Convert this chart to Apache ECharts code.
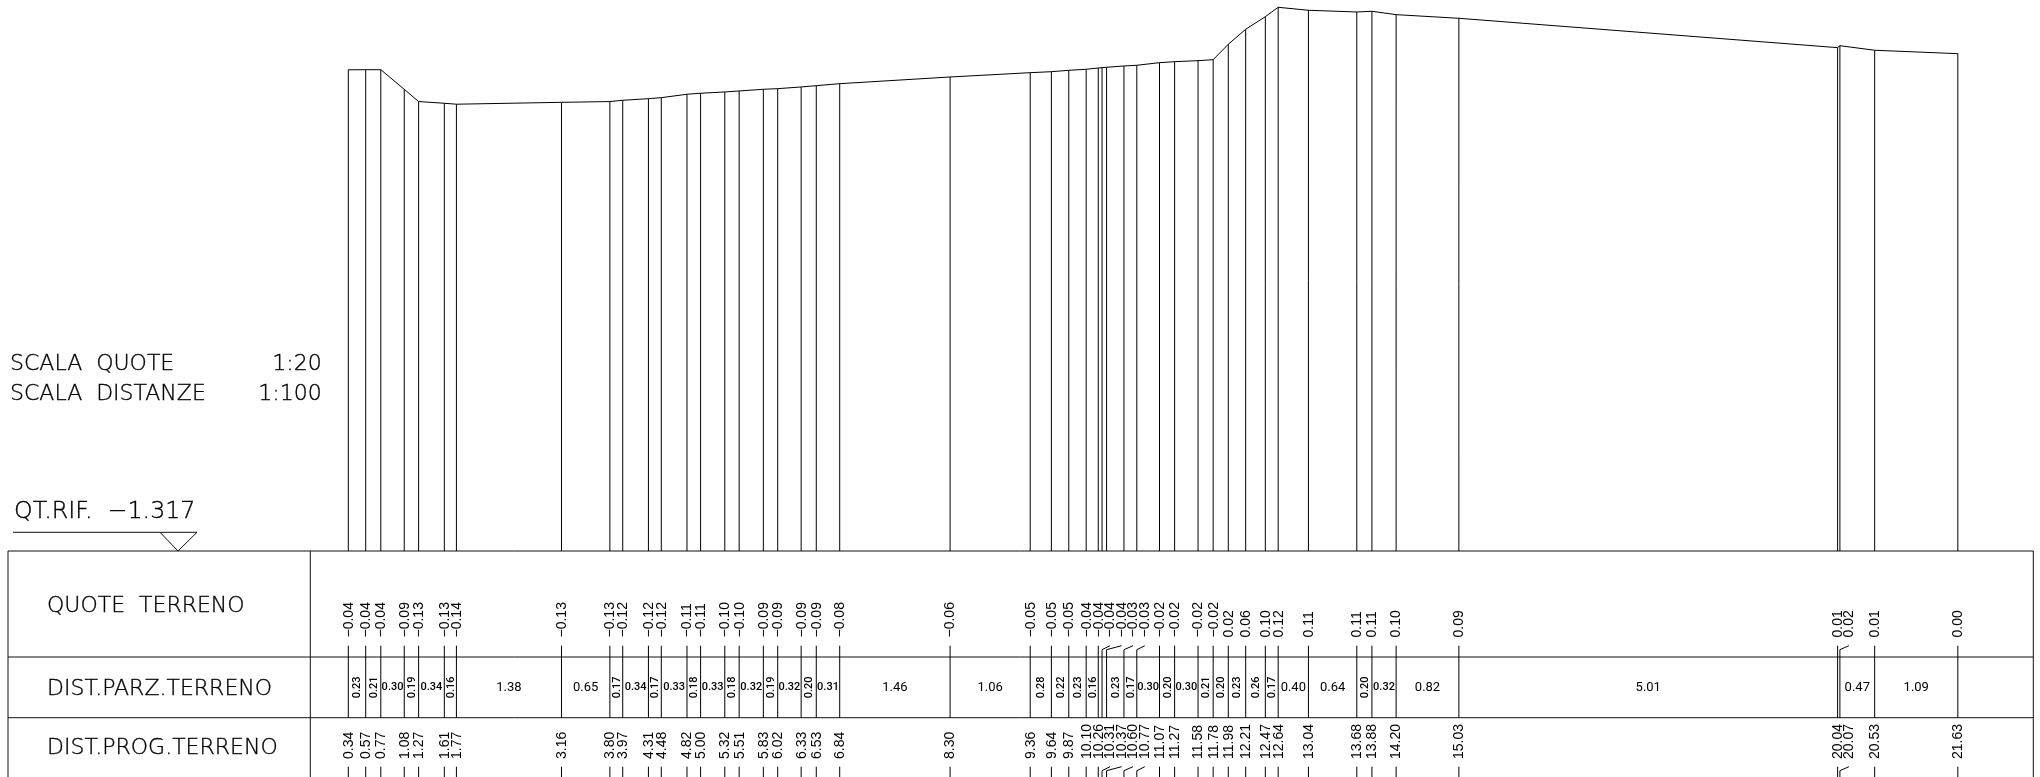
<!DOCTYPE html>
<html>
<head>
<meta charset="utf-8">
<style>html,body{margin:0;padding:0;background:#fff}#c{width:2040px;height:777px}</style>
<script src="https://cdn.jsdelivr.net/npm/echarts@6/dist/echarts.min.js"></script>
</head>
<body>
<div id="c"></div>
<script>
// Progressive distance of each station (DIST.PROG.TERRENO)
const progressive = [0.34,0.57,0.77,1.08,1.27,1.61,1.77,3.16,3.80,3.97,4.31,4.48,4.82,5.00,5.32,5.51,5.83,6.02,6.33,6.53,6.84,8.30,9.36,9.64,9.87,10.10,10.26,10.31,10.37,10.60,10.77,11.07,11.27,11.58,11.78,11.98,12.21,12.47,12.64,13.04,13.68,13.88,14.20,15.03,20.04,20.07,20.53,21.63];
// Printed ground levels (QUOTE TERRENO)
const quoteLabels = ["−0.04","−0.04","−0.04","−0.09","−0.13","−0.13","−0.14","−0.13","−0.13","−0.12","−0.12","−0.12","−0.11","−0.11","−0.10","−0.10","−0.09","−0.09","−0.09","−0.09","−0.08","−0.06","−0.05","−0.05","−0.05","−0.04","−0.04","−0.04","−0.04","−0.03","−0.03","−0.02","−0.02","−0.02","−0.02","0.02","0.06","0.10","0.12","0.11","0.11","0.11","0.10","0.09","0.01","0.02","0.01","0.00"];
// Ground level
const terrain = [-0.044,-0.0437,-0.0437,-0.0955,-0.128,-0.1325,-0.135,-0.130,-0.128,-0.1246,-0.1204,-0.1177,-0.1087,-0.106,-0.1026,-0.100,-0.0955,-0.0939,-0.0894,-0.086,-0.0807,-0.063,-0.0516,-0.049,-0.0453,-0.0426,-0.0392,-0.0384,-0.0373,-0.0339,-0.032,-0.0251,-0.0225,-0.0198,-0.0172,0.0235,0.0632,0.0966,0.1214,0.1135,0.109,0.1108,0.1019,0.0923,0.0146,0.0198,0.0077,-0.0013];
// Partial distances between consecutive stations (null: not printed)
const partial = ["0.23","0.21","0.30","0.19","0.34","0.16","1.38","0.65","0.17","0.34","0.17","0.33","0.18","0.33","0.18","0.32","0.19","0.32","0.20","0.31","1.46","1.06","0.28","0.22","0.23","0.16",null,null,"0.23","0.17","0.30","0.20","0.30","0.21","0.20","0.23","0.26","0.17","0.40","0.64","0.20","0.32","0.82","5.01",null,"0.47","1.09"];
const refLevel = -1.317;
const rowTitles = ["QUOTE  TERRENO","DIST.PARZ.TERRENO","DIST.PROG.TERRENO"];

// Layout (pixels)
const L = {w:2040,h:777,x0:322.6,pxPerM:75.6,pxPerQ:378,tableTop:551,row1:657,row2:717.7,left:8,div:310.3,right:2033.3,
  quoteTextBase:637.5,tickTop:645.7,leaderFoot:649.7,parzMid:687.7,progTextBase:759,tick2Top:766.7,leader2Foot:770.7};
// label displacement (px) for crowded stations: station index -> shift
const labelShift = {27:8,28:15,29:9,30:8,45:9};
const BIG = '200 {s}px "DejaVu Sans"';
const INK = '#000';
const fontFor = size => size===14 ? '14px "Liberation Sans"' : (size<13 ? '500 ' : '400 ')+size+'px Roboto';

const xMin = -L.x0/L.pxPerM, xMax = (L.w-L.x0)/L.pxPerM;
const yMin = refLevel-(L.h-L.tableTop)/L.pxPerQ, yMax = refLevel+L.tableTop/L.pxPerQ;

const stations = progressive.map((p,i)=>[p,terrain[i],i]);
const gaps = partial.map((t,i)=>[(progressive[i]+progressive[i+1])/2,progressive[i+1]-progressive[i],i]).filter(g=>partial[g[2]]!==null);

const ln = (x1,y1,x2,y2)=>({type:'line',shape:{x1,y1,x2,y2},style:{stroke:INK,lineWidth:1}});
const txt = (x,y,text,size,rot)=>({type:'text',x,y,rotation:rot?Math.PI/2:0,style:{text,fill:INK,font:fontFor(size),align:rot?'left':'center',verticalAlign:'middle'}});

function renderStation(params,api){
  const i=api.value(2);
  const top=api.coord([api.value(0),api.value(1)]);
  const x=top[0];
  const base=api.coord([api.value(0),refLevel])[1];
  const sh=labelShift[i]||0;
  const kids=[ln(x,top[1],x,base)];
  if(sh){
    kids.push(ln(x,L.leaderFoot,x,L.row2),ln(x,L.leaderFoot,x+sh,L.tickTop));
    kids.push(ln(x,L.leader2Foot,x,L.h),ln(x,L.leader2Foot,x+sh,L.tick2Top));
  }else{
    kids.push(ln(x,L.tickTop,x,L.row2),ln(x,L.tick2Top,x,L.h));
  }
  kids.push(txt(x+sh+0.5,L.quoteTextBase,quoteLabels[i],14,true));
  kids.push(txt(x+sh+0.5,L.progTextBase,progressive[i].toFixed(2),14,true));
  return {type:'group',children:kids};
}
function renderGap(params,api){
  const i=api.value(2), d=api.value(1);
  const x=api.coord([api.value(0),0])[0];
  const t=partial[i];
  if(d<0.295){
    return txt(x+0.7,L.parzMid+10.5,t,11,true);
  }
  return txt(x,L.parzMid,t,d<0.38?11:13,false);
}

const tableLines=[
  [L.left,L.tableTop,L.right,L.tableTop],[L.left,L.row1,L.right,L.row1],[L.left,L.row2,L.right,L.row2],
  [L.left,L.tableTop,L.left,L.h],[L.div,L.tableTop,L.div,L.h],[L.right,L.tableTop,L.right,L.h],
  [13,532.3,197,532.3],[160,532.3,178,551],[178,551,197,532.3]
].map(a=>({type:'line',silent:true,shape:{x1:a[0],y1:a[1],x2:a[2],y2:a[3]},style:{stroke:'#111',lineWidth:1}}));
const gt=(x,y,text,size,align)=>({type:'text',silent:true,x,y,style:{text,fill:INK,stroke:INK,lineWidth:0.35,font:BIG.replace('{s}',size),align:align||'left',verticalAlign:'middle'}});
const texts=[
  gt(10,364,'SCALA  QUOTE',22),gt(321.7,364,'1:20',22,'right'),
  gt(10,394,'SCALA  DISTANZE',22),gt(321.7,394,'1:100',22,'right'),
  gt(14,511.5,'QT.RIF.  −'+Math.abs(refLevel).toFixed(3),23.7),
  gt(47,606.5,rowTitles[0],22),gt(47,689,rowTitles[1],22),gt(47,748.5,rowTitles[2],22)
];

const chart=echarts.init(document.getElementById('c'),null,{renderer:'canvas'});
chart.setOption({
  animation:false,
  backgroundColor:'#fff',
  grid:{left:0,right:0,top:0,bottom:0},
  xAxis:{type:'value',min:xMin,max:xMax,show:false},
  yAxis:{type:'value',min:yMin,max:yMax,show:false},
  graphic:[...tableLines,...texts],
  series:[
    {type:'custom',data:stations,renderItem:renderStation,clip:false,silent:true,encode:{x:0,y:1}},
    {type:'custom',data:gaps,renderItem:renderGap,clip:false,silent:true,encode:{x:0}},
    {type:'line',data:stations.map(s=>[s[0],s[1]]),showSymbol:false,symbol:'none',lineStyle:{color:INK,width:1},silent:true}
  ]
});
</script>
</body>
</html>
